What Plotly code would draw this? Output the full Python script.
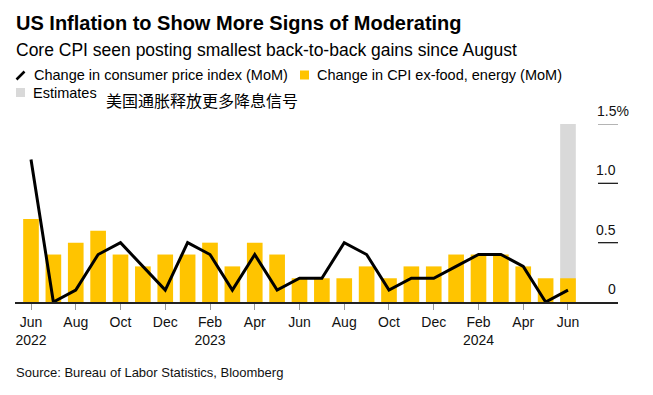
import plotly.graph_objects as go

# ---------------- data ----------------
months = ["Jun 2022", "Jul 2022", "Aug 2022", "Sep 2022", "Oct 2022", "Nov 2022", "Dec 2022",
          "Jan 2023", "Feb 2023", "Mar 2023", "Apr 2023", "May 2023", "Jun 2023", "Jul 2023",
          "Aug 2023", "Sep 2023", "Oct 2023", "Nov 2023", "Dec 2023", "Jan 2024", "Feb 2024",
          "Mar 2024", "Apr 2024", "May 2024", "Jun 2024"]
cpi_mom = [1.2, 0.0, 0.1, 0.4, 0.5, 0.3, 0.1, 0.5, 0.4, 0.1, 0.4, 0.1, 0.2,
           0.2, 0.5, 0.4, 0.1, 0.2, 0.2, 0.3, 0.4, 0.4, 0.3, 0.0, 0.1]
core_mom = [0.7, 0.4, 0.5, 0.6, 0.4, 0.3, 0.4, 0.4, 0.5, 0.3, 0.5, 0.4, 0.2,
            0.2, 0.2, 0.3, 0.2, 0.3, 0.3, 0.4, 0.4, 0.4, 0.3, 0.2, 0.2]
estimate_months = ["Jun 2024"]
estimate_values = [1.5]

tick_months = ["Jun 2022", "Aug 2022", "Oct 2022", "Dec 2022", "Feb 2023", "Apr 2023", "Jun 2023",
               "Aug 2023", "Oct 2023", "Dec 2023", "Feb 2024", "Apr 2024", "Jun 2024"]
tick_text = ["Jun<br>2022", "Aug", "Oct", "Dec", "Feb<br>2023", "Apr", "Jun",
             "Aug", "Oct", "Dec", "Feb<br>2024", "Apr", "Jun"]
y_tick_vals = [0, 0.5, 1.0, 1.5]
y_tick_text = ["0", "0.5", "1.0", "1.5%"]

title = "US Inflation to Show More Signs of Moderating"
subtitle = "Core CPI seen posting smallest back-to-back gains since August"
legend_line = "Change in consumer price index (MoM)"
legend_bar = "Change in CPI ex-food, energy (MoM)"
legend_est = "Estimates"
cn_note = "美国通胀释放更多降息信号"
source = "Source: Bureau of Labor Statistics, Bloomberg"

# ---------------- layout constants ----------------
W, H = 653, 395
L, R, T, B = 15, 35, 124, 93
PW, PH = W - L - R, H - T - B
FONT = "Liberation Sans, Arial, sans-serif"
YELLOW = "#ffc400"
GREY = "#d9d9d9"


def px(xp):
    return (xp - L) / PW


def py(yp):
    return (H - B - yp) / PH


fig = go.Figure()
fig.add_trace(go.Bar(x=estimate_months, y=estimate_values, marker_color=GREY,
                     marker_line_width=0, width=0.7, name=legend_est, showlegend=False))
fig.add_trace(go.Bar(x=months, y=core_mom, marker_color=YELLOW, marker_line_width=0,
                     width=0.7, name=legend_bar, showlegend=False))
fig.add_trace(go.Scatter(x=months, y=cpi_mom, mode="lines",
                         line=dict(color="#000000", width=3), name=legend_line,
                         showlegend=False))

shapes = []
annotations = []

# right-side short gridlines and labels
for v, t in zip(y_tick_vals, y_tick_text):
    if v != 0:
        shapes.append(dict(type="line", xref="paper", yref="y", x0=px(598), x1=1.0, y0=v, y1=v,
                           line=dict(color="#8c8c8c" if v == max(y_tick_vals) else "#222222",
                                     width=1.3), layer="above"))
    annotations.append(dict(xref="paper", yref="y", x=1.0, y=v, text=t, showarrow=False,
                            xanchor="right", yanchor="bottom",
                            xshift=12.5 if t.endswith("%") else 0, yshift=3,
                            font=dict(family=FONT, size=14, color="#111111")))

# title / subtitle
annotations.append(dict(xref="paper", yref="paper", x=px(14), y=py(23.5), text=title,
                        showarrow=False, xanchor="left", yanchor="middle",
                        font=dict(family=FONT, size=20, color="#000000", weight="bold")))
annotations.append(dict(xref="paper", yref="paper", x=px(14), y=py(49.5), text=subtitle,
                        showarrow=False, xanchor="left", yanchor="middle",
                        font=dict(family=FONT, size=17.5, color="#000000")))

# legend
shapes.append(dict(type="line", xref="paper", yref="paper", x0=px(16.5), y0=py(79.5),
                   x1=px(24.5), y1=py(71.5), line=dict(color="#000000", width=2.5)))
annotations.append(dict(xref="paper", yref="paper", x=px(32), y=py(74.5), text=legend_line,
                        showarrow=False, xanchor="left", yanchor="middle",
                        font=dict(family=FONT, size=14.5, color="#000000")))
shapes.append(dict(type="rect", xref="paper", yref="paper", x0=px(300), y0=py(79.5),
                   x1=px(309), y1=py(70.5), fillcolor=YELLOW, line_width=0))
annotations.append(dict(xref="paper", yref="paper", x=px(315), y=py(74.5), text=legend_bar,
                        showarrow=False, xanchor="left", yanchor="middle",
                        font=dict(family=FONT, size=14.5, color="#000000")))
shapes.append(dict(type="rect", xref="paper", yref="paper", x0=px(16), y0=py(97),
                   x1=px(25), y1=py(88), fillcolor=GREY, line_width=0))
annotations.append(dict(xref="paper", yref="paper", x=px(31), y=py(93), text=legend_est,
                        showarrow=False, xanchor="left", yanchor="middle",
                        font=dict(family=FONT, size=14.5, color="#000000")))
annotations.append(dict(xref="paper", yref="paper", x=px(104), y=py(100), text=cn_note,
                        showarrow=False, xanchor="left", yanchor="middle",
                        font=dict(family="Noto Sans CJK SC", size=16, color="#000000")))

# source
annotations.append(dict(xref="paper", yref="paper", x=px(14), y=py(372), text=source,
                        showarrow=False, xanchor="left", yanchor="middle",
                        font=dict(family=FONT, size=13, color="#111111")))

n = len(months)
fig.update_layout(
    width=W, height=H,
    margin=dict(l=L, r=R, t=T, b=B, pad=0),
    paper_bgcolor="#ffffff", plot_bgcolor="#ffffff",
    barmode="overlay", bargap=0.3,
    showlegend=False,
    shapes=shapes, annotations=annotations,
    xaxis=dict(type="category", categoryorder="array", categoryarray=months,
               range=[-0.715, n - 1 + 2.235],
               showline=True, linecolor="#222222", linewidth=1.5,
               showgrid=False, zeroline=False,
               ticks="outside", ticklen=6, tickwidth=1, tickcolor="#999999",
               tickmode="array", tickvals=tick_months, ticktext=tick_text,
               tickfont=dict(family=FONT, size=14, color="#111111"),
               fixedrange=True),
    yaxis=dict(range=[0, 1.5], visible=False, showgrid=False, zeroline=False,
               fixedrange=True),
)

fig.write_html("out.html", config={"displayModeBar": False},
               post_script="document.body.style.margin='0';document.body.style.overflow='hidden';")
